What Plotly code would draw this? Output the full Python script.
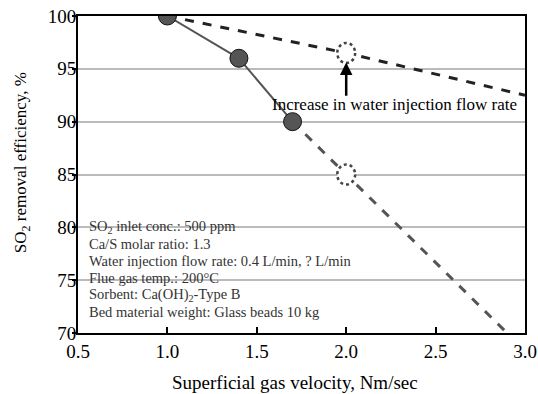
import plotly.graph_objects as go

# Data
solid_x = [1.0, 1.4, 1.7]
solid_y = [100, 96, 90]
black_dash_x = [1.0, 2.0, 3.0]
black_dash_y = [100, 96.5, 92.5]
gray_dash_x = [1.7, 2.0, 2.9]
gray_dash_y = [90, 85, 70]
open_x = [2.0, 2.0]
open_y = [96.5, 85]
x_ticks = [0.5, 1.0, 1.5, 2.0, 2.5, 3.0]
y_ticks = [70, 75, 80, 85, 90, 95, 100]
info_lines = [
    "SO<sub>2</sub> inlet conc.: 500 ppm",
    "Ca/S molar ratio: 1.3",
    "Water injection flow rate: 0.4 L/min, ? L/min",
    "Flue gas temp.: 200°C",
    "Sorbent: Ca(OH)<sub>2</sub>-Type B",
    "Bed material weight: Glass beads 10 kg",
]
arrow_label = "Increase in water injection flow rate"
x_title = "Superficial gas velocity, Nm/sec"
y_title = "SO<sub>2</sub> removal efficiency, %"

FONT = "Liberation Serif"

fig = go.Figure()
fig.add_trace(go.Scatter(x=gray_dash_x, y=gray_dash_y, mode="lines",
                         line=dict(color="#555555", width=3, dash="dash"), showlegend=False))
fig.add_trace(go.Scatter(x=black_dash_x, y=black_dash_y, mode="lines",
                         line=dict(color="#222222", width=3, dash="dash"), showlegend=False))
fig.add_trace(go.Scatter(x=solid_x, y=solid_y, mode="lines+markers",
                         line=dict(color="#555555", width=2),
                         marker=dict(size=18, color="#555555", line=dict(color="#111111", width=1)),
                         showlegend=False))
# open dashed circles as shapes derived from data
for ox, oy in zip(open_x, open_y):
    fig.add_shape(type="circle", xref="x", yref="y",
                  x0=ox - 0.05, x1=ox + 0.05, y0=oy - 0.95, y1=oy + 0.95,
                  line=dict(color="#444444", width=2.5, dash="dot"),
                  fillcolor="white", layer="above")

fig.add_annotation(x=2.0, y=95.6, ax=2.0, ay=92.3, xref="x", yref="y",
                   axref="x", ayref="y", showarrow=True, arrowhead=2,
                   arrowsize=1, arrowwidth=2.5, arrowcolor="black", text="")
fig.add_annotation(x=2.27, y=91.6, xref="x", yref="y", text=arrow_label,
                   showarrow=False, font=dict(family=FONT, size=17, color="black"))
for i, line in enumerate(info_lines):
    fig.add_annotation(x=0.55, y=80.0, xref="x", yref="y", xanchor="left", yanchor="middle",
                       yshift=-17 * i, align="left", text=line, showarrow=False,
                       font=dict(family=FONT, size=14.5, color="#333333"))

fig.add_annotation(x=-0.125, y=0.536, xref="paper", yref="paper", text=y_title,
                   textangle=-90, showarrow=False, xanchor="center", yanchor="middle",
                   font=dict(family=FONT, size=17, color="black"))
fig.add_annotation(x=0.485, y=-0.155, xref="paper", yref="paper", text=x_title,
                   showarrow=False, xanchor="center", yanchor="middle",
                   font=dict(family=FONT, size=19, color="black"))

fig.update_xaxes(range=[0.5, 3.0], tickvals=x_ticks, ticktext=[f"{v:.1f}" for v in x_ticks],
                 ticks="inside", ticklen=6, tickwidth=2, tickcolor="black",
                 showline=True, linecolor="black", linewidth=2, mirror=True,
                 showgrid=False, zeroline=False, automargin=False,
                 tickfont=dict(family=FONT, size=19, color="black"))
fig.update_yaxes(range=[70, 100], tickvals=y_ticks,
                 ticks="outside", ticklen=4, tickwidth=1.5, tickcolor="black",
                 showline=True, linecolor="black", linewidth=2, mirror=True,
                 showgrid=True, gridcolor="#bbbbbb", gridwidth=1.5, zeroline=False,
                 automargin=False, ticklabelstandoff=-8,
                 tickfont=dict(family=FONT, size=19, color="black"))
fig.update_layout(width=538, height=394, margin=dict(l=78, r=13, t=16, b=61),
                  plot_bgcolor="white", paper_bgcolor="white")
fig.write_html("out.html")
